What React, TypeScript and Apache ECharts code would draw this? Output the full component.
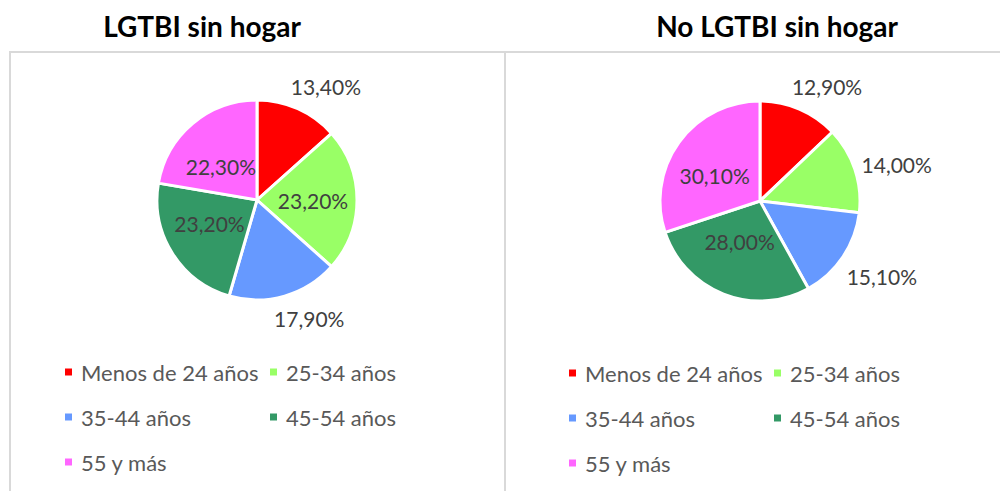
import React, { useEffect, useRef } from "react";
import * as echarts from "echarts";

const categories = ["Menos de 24 años", "25-34 años", "35-44 años", "45-54 años", "55 y más"];
const colors = ["#FF0000", "#99FF66", "#6699FF", "#339966", "#FF66FF"];
const lgtbiValues = [13.4, 23.2, 17.9, 23.2, 22.3];
const noLgtbiValues = [12.9, 14.0, 15.1, 28.0, 30.1];
const lgtbiOutside = [true, false, true, false, false];
const noLgtbiOutside = [true, true, true, false, false];
const titles = ["LGTBI sin hogar", "No LGTBI sin hogar"];
const legendCol1 = [categories[0], categories[2], categories[4]];
const legendCol2 = [categories[1], categories[3]];

const FONT = "Lato";
const R = 100;
const ANCHOR = 108;

const fmt = (v: number) => v.toFixed(2).replace(".", ",") + "%";

function makeSeries(values: number[], outside: boolean[], center: [number, number], name: string) {
  const total = values.reduce((a, b) => a + b, 0);
  return {
    type: "pie",
    name,
    center,
    radius: R,
    startAngle: 90,
    clockwise: true,
    avoidLabelOverlap: false,
    itemStyle: { borderColor: "#ffffff", borderWidth: 3 },
    labelLine: { show: false },
    emphasis: { disabled: true },
    data: values.map((v, i) => ({
      name: categories[i],
      value: v,
      itemStyle: { color: colors[i] },
      label: {
        show: true,
        position: outside[i] ? "outside" : "inside",
        formatter: () => fmt(v),
        color: "#404040",
        fontFamily: FONT,
        fontSize: 21,
      },
    })),
    labelLayout: (params: any) => {
      const idx = params.dataIndex;
      let cum = 0;
      for (let k = 0; k < idx; k++) cum += values[k];
      const frac = (cum + values[idx] / 2) / total;
      const th = frac * Math.PI * 2;
      const dx = Math.sin(th);
      const dy = -Math.cos(th);
      if (!outside[idx]) {
        return {
          x: center[0] + dx * 56,
          y: center[1] + dy * 44,
          align: "center",
          verticalAlign: "middle",
        };
      }
      const w = params.labelRect.width;
      const ax = center[0] + dx * ANCHOR;
      const ay = center[1] + dy * ANCHOR;
      const sx = 0.5 + 0.5 * Math.abs(dx);
      const sy = Math.abs(dy) > 0.5 ? 15 : Math.abs(dy) * 7;
      return {
        x: ax + Math.sign(dx) * (w / 2) * sx,
        y: ay + Math.sign(dy) * sy,
        align: "center",
        verticalAlign: "middle",
      };
    },
  };
}

function legend(data: string[], left: number, top: number) {
  return {
    data,
    left,
    top,
    padding: 0,
    orient: "vertical",
    icon: "rect",
    itemWidth: 9,
    itemHeight: 9,
    itemGap: 21,
    selectedMode: false,
    textStyle: {
      color: "#595959",
      fontFamily: FONT,
      fontSize: 22,
      lineHeight: 24,
      padding: [0, 0, 0, 3],
    },
  };
}

export default function App() {
  const ref = useRef<HTMLDivElement>(null);
  useEffect(() => {
    if (!ref.current) return;
    const chart = echarts.init(ref.current, null, { renderer: "svg" });
    const borderColor = "#D9D9D9";
    chart.setOption({
      animation: false,
      backgroundColor: "#ffffff",
      title: [
        {
          text: titles[0],
          left: 197,
          top: 7,
          textAlign: "center",
          textStyle: { fontFamily: FONT, fontWeight: "bold", fontSize: 28, color: "#000000" },
        },
        {
          text: titles[1],
          left: 772,
          top: 7,
          textAlign: "center",
          textStyle: { fontFamily: FONT, fontWeight: "bold", fontSize: 28, color: "#000000" },
        },
      ],
      legend: [
        legend(legendCol1, 63, 360),
        legend(legendCol2, 268, 360),
        legend(legendCol1, 567, 361),
        legend(legendCol2, 772, 361),
      ],
      graphic: [
        { type: "line", shape: { x1: 9, y1: 52, x2: 1000, y2: 52 }, style: { stroke: borderColor, lineWidth: 2 } },
        { type: "line", shape: { x1: 10, y1: 52, x2: 10, y2: 491 }, style: { stroke: borderColor, lineWidth: 2 } },
        { type: "line", shape: { x1: 505, y1: 52, x2: 505, y2: 491 }, style: { stroke: borderColor, lineWidth: 2 } },
      ],
      series: [
        makeSeries(lgtbiValues, lgtbiOutside, [257, 200], titles[0]),
        makeSeries(noLgtbiValues, noLgtbiOutside, [760, 201], titles[1]),
      ],
    });
    return () => chart.dispose();
  }, []);
  return (
    <div
      ref={ref}
      style={{ position: "fixed", left: 0, top: 0, width: 1000, height: 491 }}
    />
  );
}
